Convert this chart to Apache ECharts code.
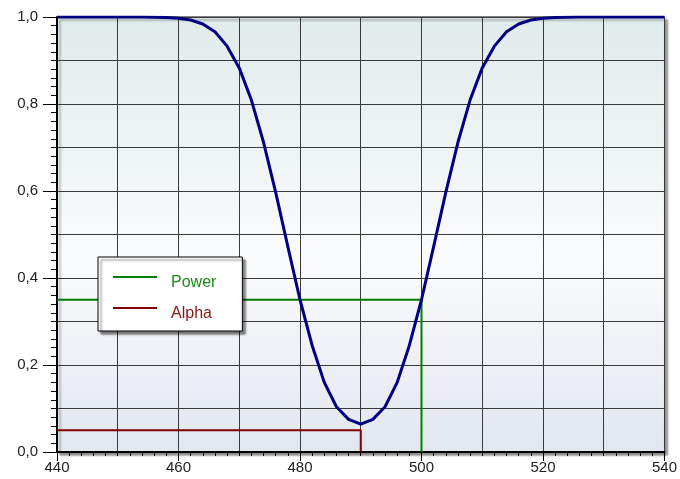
<!DOCTYPE html>
<html>
<head>
<meta charset="utf-8">
<script src="https://cdn.jsdelivr.net/npm/echarts@6/dist/echarts.min.js"></script>
<style>
html,body{margin:0;padding:0;background:#fff;}
#c{width:680px;height:479px;}
</style>
</head>
<body>
<div id="c"></div>
<script>
// Power curve (x = mean, y = power)
var curveX = [440,442,444,446,448,450,452,454,456,458,460,462,464,466,468,470,472,474,476,478,480,482,484,486,488,490,492,494,496,498,500,502,504,506,508,510,512,514,516,518,520,522,524,526,528,530,532,534,536,538,540];
var curveY = [1.0,1.0,1.0,1.0,1.0,1.0,1.0,1.0,0.9997,0.999,0.997,0.993,0.984,0.966,0.933,0.883,0.809,0.712,0.597,0.472,0.35,0.245,0.16,0.104,0.075,0.064,0.075,0.104,0.16,0.245,0.35,0.472,0.597,0.712,0.809,0.883,0.933,0.966,0.984,0.993,0.997,0.999,0.9997,1.0,1.0,1.0,1.0,1.0,1.0,1.0,1.0];
// Reference lines
var powerX = [440, 500, 500];
var powerY = [0.35, 0.35, 0];
var alphaX = [440, 490, 490];
var alphaY = [0.05, 0.05, 0];
// Axis tick labels
var xTickLabels = [440, 460, 480, 500, 520, 540];
var yTickLabels = ['0,0', '0,2', '0,4', '0,6', '0,8', '1,0'];

function zip(a, b) { return a.map(function (v, i) { return [v, b[i]]; }); }

var chart = echarts.init(document.getElementById('c'));
var font = 'Liberation Sans, Arial, sans-serif';
var lineIcon = 'path://M0,0H44V2H0Z M0,13.9H0.01V14H0Z';
chart.setOption({
  animation: false,
  grid: {
    left: 57, right: 14, top: 17, bottom: 27,
    show: true,
    borderColor: '#000', borderWidth: 1,
    shadowColor: 'rgba(0,0,0,0.45)', shadowOffsetX: 3, shadowOffsetY: 3, shadowBlur: 2,
    backgroundColor: {
      type: 'linear', x: 0, y: 0, x2: 0, y2: 1,
      colorStops: [
        {offset: 0, color: '#e0ebeb'},
        {offset: 0.55, color: '#fafbfc'},
        {offset: 1, color: '#e2e6ef'}
      ]
    }
  },
  legend: {
    orient: 'vertical',
    left: 98, top: 257,
    padding: [18, 26, 9, 15],
    itemGap: 15,
    itemWidth: 44, itemHeight: 14,
    backgroundColor: '#fff',
    borderColor: '#000', borderWidth: 1,
    shadowColor: 'rgba(0,0,0,0.5)', shadowOffsetX: 3, shadowOffsetY: 3, shadowBlur: 2,
    data: [
      {name: 'Power', icon: lineIcon, textStyle: {color: '#1a8a1a', fontSize: 16, fontFamily: font, padding: [0, 0, 0, 9]}},
      {name: 'Alpha', icon: lineIcon, textStyle: {color: '#8a1414', fontSize: 16, fontFamily: font, padding: [0, 0, 0, 9]}}
    ]
  },
  xAxis: [{
    type: 'value', min: 440, max: 540, interval: 20,
    axisLine: {show: true, onZero: false, lineStyle: {color: '#000', width: 2}},
    axisTick: {show: true, length: 9, lineStyle: {color: '#000', width: 1}},
    minorTick: {show: true, splitNumber: 10, length: 4, lineStyle: {color: '#000', width: 1}},
    axisLabel: {color: '#222', fontSize: 15, fontFamily: font, margin: 8,
      formatter: function (v) { return xTickLabels.indexOf(v) >= 0 ? String(v) : ''; }},
    splitLine: {show: false}
  }, {
    type: 'value', min: 440, max: 540, interval: 10, position: 'bottom',
    axisLine: {show: false}, axisTick: {show: false}, axisLabel: {show: false},
    splitLine: {show: true, lineStyle: {color: '#3a3a3a', width: 1}}
  }],
  yAxis: [{
    type: 'value', min: 0, max: 1, interval: 0.2,
    axisLine: {show: true, onZero: false, lineStyle: {color: '#000', width: 2}},
    axisTick: {show: true, length: 14, lineStyle: {color: '#000', width: 1}},
    minorTick: {show: true, splitNumber: 10, length: 6, lineStyle: {color: '#000', width: 1}},
    axisLabel: {color: '#222', fontSize: 15, fontFamily: font, margin: 19,
      formatter: function (v) { return yTickLabels[Math.round(v * 5)]; }},
    splitLine: {show: false}
  }, {
    type: 'value', min: 0, max: 1, interval: 0.1, position: 'left',
    axisLine: {show: false}, axisTick: {show: false}, axisLabel: {show: false},
    splitLine: {show: true, lineStyle: {color: '#3a3a3a', width: 1}}
  }],
  series: [{
    name: 'Power', type: 'line', data: zip(powerX, powerY),
    symbol: 'none', lineStyle: {color: '#008000', width: 2}, itemStyle: {color: '#008000'}, z: 3
  }, {
    name: 'Alpha', type: 'line', data: zip(alphaX, alphaY),
    symbol: 'none', lineStyle: {color: '#800000', width: 2}, itemStyle: {color: '#800000'}, z: 3
  }, {
    name: 'Curve', type: 'line', data: zip(curveX, curveY),
    symbol: 'none', lineStyle: {color: '#000080', width: 3}, z: 4
  }]
});
</script>
</body>
</html>
